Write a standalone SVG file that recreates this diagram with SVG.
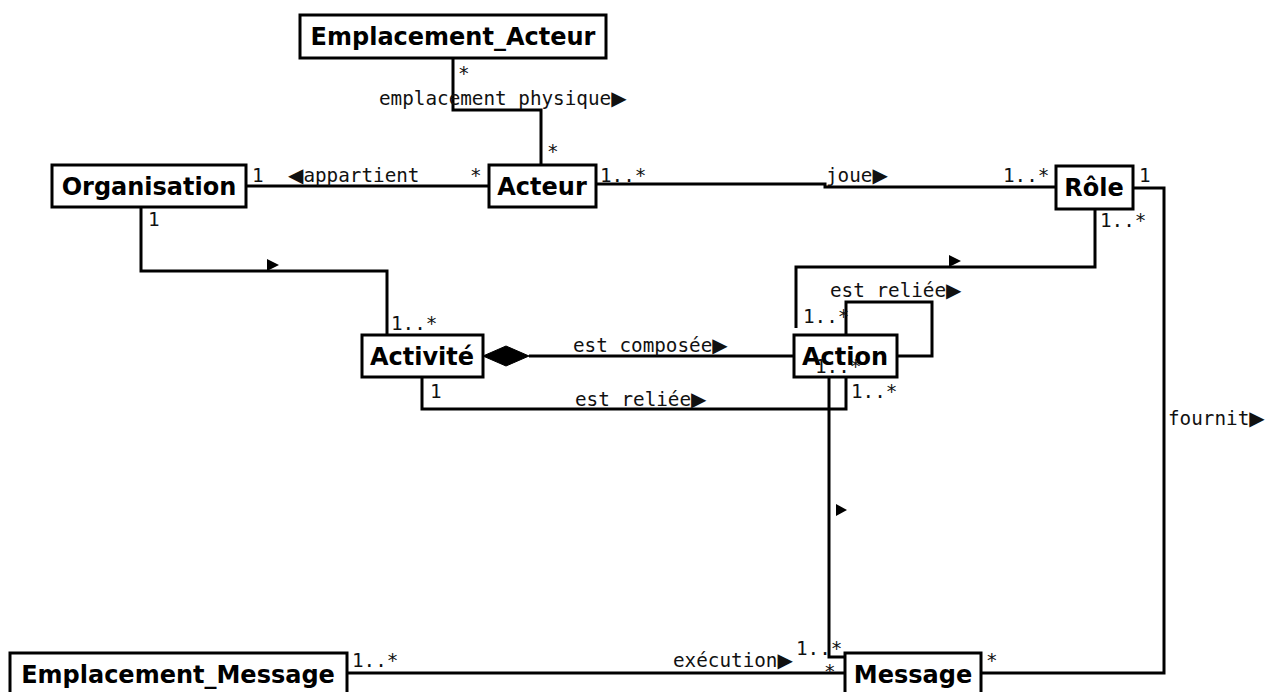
<svg xmlns="http://www.w3.org/2000/svg" width="1265" height="692" viewBox="0 0 1265 692">
<style>
.box{fill:#fff;stroke:#000;stroke-width:3}
.name{font-family:"DejaVu Sans",Verdana,sans-serif;font-weight:bold;font-size:24px;text-anchor:middle;fill:#000}
.lbl{font-family:"DejaVu Sans Mono","Liberation Mono",monospace;font-size:19.3px;fill:#111}
.ar{font-family:"DejaVu Sans",sans-serif;font-size:20px}
.ln{fill:none;stroke:#000;stroke-width:3}
.tri{fill:#000}
</style>
<rect width="1265" height="692" fill="#fff"/>
<g id="connectors">
<path class="ln" d="M453,58 V110 H541 V165"/>
<path class="ln" d="M246,186 H489"/>
<path class="ln" d="M596,184 H825 V187 H1056"/>
<path class="ln" d="M141,207 V271 H387 V335"/>
<path class="ln" d="M529,356 H794"/>
<path d="M483,356 L506,346 L529,356 L506,366 Z" fill="#000" stroke="#000" stroke-width="1"/>
<path class="ln" d="M422,377 V409 H846 V377"/>
<path class="ln" d="M1095,209 V267 H796 V328"/>
<path class="ln" d="M846,335 V302 H932 V356 H897"/>
<path class="ln" d="M829,377 V657 H845"/>
<path class="ln" d="M347,673 H845"/>
<path class="ln" d="M1133,188 H1164 V673 H981"/>
<path class="tri" d="M267,259 L279,265 L267,271 Z"/>
<path class="tri" d="M949,255 L961,261 L949,267 Z"/>
<path class="tri" d="M836,504 L847,510 L836,516 Z"/>
<text class="lbl" x="458" y="80">*</text>
<text class="lbl" x="379" y="105">emplacement physique<tspan class="ar">▶</tspan></text>
<text class="lbl" x="547" y="158">*</text>
<text class="lbl" x="252" y="182">1</text>
<text class="lbl" x="288" y="182"><tspan class="ar">◀</tspan>appartient</text>
<text class="lbl" x="470" y="182">*</text>
<text class="lbl" x="600" y="182">1..*</text>
<text class="lbl" x="826" y="182">joue<tspan class="ar">▶</tspan></text>
<text class="lbl" x="1003" y="182">1..*</text>
<text class="lbl" x="1139" y="182">1</text>
<text class="lbl" x="1100" y="227">1..*</text>
<text class="lbl" x="148" y="226">1</text>
<text class="lbl" x="391" y="330">1..*</text>
<text class="lbl" x="573" y="352">est composée<tspan class="ar">▶</tspan></text>
<text class="lbl" x="430" y="398">1</text>
<text class="lbl" x="575" y="406">est reliée<tspan class="ar">▶</tspan></text>
<text class="lbl" x="851" y="398">1..*</text>
<text class="lbl" x="830" y="297">est reliée<tspan class="ar">▶</tspan></text>
<text class="lbl" x="803" y="323">1..*</text>
<text class="lbl" x="1168" y="425">fournit<tspan class="ar">▶</tspan></text>
<text class="lbl" x="796" y="655">1..*</text>
<text class="lbl" x="824" y="678">*</text>
<text class="lbl" x="986" y="667">*</text>
<text class="lbl" x="352" y="667">1..*</text>
<text class="lbl" x="673" y="667">exécution<tspan class="ar">▶</tspan></text>
</g>
<g id="Emplacement_Acteur"><rect class="box" x="300" y="15" width="306" height="43"/><text class="name" x="453" y="45">Emplacement_Acteur</text></g>
<g id="Organisation"><rect class="box" x="52" y="165" width="194" height="42"/><text class="name" x="149" y="195">Organisation</text></g>
<g id="Acteur"><rect class="box" x="489" y="165" width="107" height="42"/><text class="name" x="542" y="195">Acteur</text></g>
<g id="Role"><rect class="box" x="1056" y="166" width="77" height="43"/><text class="name" x="1094" y="196">Rôle</text></g>
<g id="Activite"><rect class="box" x="362" y="335" width="121" height="42"/><text class="name" x="422" y="365">Activité</text></g>
<g id="Action"><rect class="box" x="794" y="335" width="103" height="42"/><text class="name" x="845" y="365">Action</text></g>
<text class="lbl" x="815" y="373">1..*</text>
<g id="Emplacement_Message"><rect class="box" x="10" y="653" width="337" height="50"/><text class="name" x="178" y="683">Emplacement_Message</text></g>
<g id="Message"><rect class="box" x="845" y="653" width="136" height="50"/><text class="name" x="913" y="683">Message</text></g>
</svg>
